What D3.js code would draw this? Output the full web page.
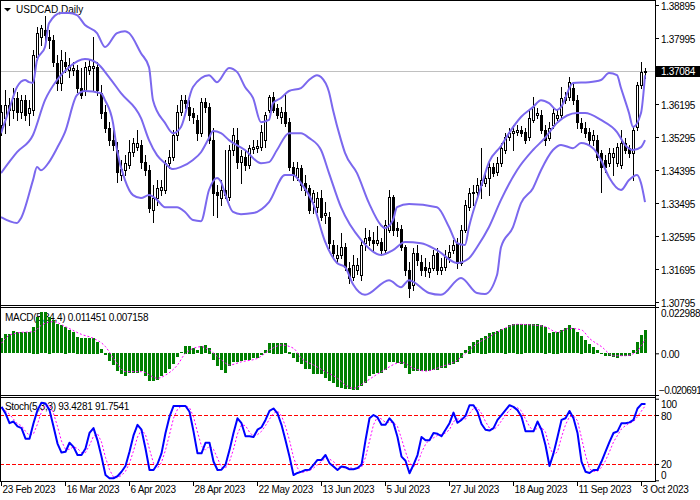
<!DOCTYPE html>
<html><head><meta charset="utf-8">
<script src="https://cdn.jsdelivr.net/npm/d3@7"></script>
<style>
body{margin:0;background:#fff;}
svg{display:block;font-family:"Liberation Sans",Arial,sans-serif;}
</style></head><body>
<svg id="c" width="700" height="500"></svg>
<script>
// ---------- data ----------
const dateLabels = ["23 Feb 2023","16 Mar 2023","6 Apr 2023","28 Apr 2023","22 May 2023","13 Jun 2023","5 Jul 2023","27 Jul 2023","18 Aug 2023","11 Sep 2023","3 Oct 2023"];
const dateIndex = [0,16,32,48,64,80,96,112,128,144,160];

const opens = [
1.3562,1.3581,1.3617,1.3603,1.3636,1.3598,1.3630,1.3595,1.3603,1.3748,
1.3802,1.3821,1.3802,1.3794,1.3731,1.3677,1.3734,1.3712,1.3712,1.3712,
1.3663,1.3658,1.3712,1.3718,1.3720,1.3649,1.3598,1.3554,1.3521,1.3494,
1.3426,1.3439,1.3453,1.3488,1.3502,1.3508,1.3461,1.3439,1.3330,1.3363,
1.3385,1.3385,1.3458,1.3475,1.3535,1.3598,1.3630,1.3611,1.3595,1.3576,
1.3540,1.3625,1.3611,1.3521,1.3379,1.3363,1.3385,1.3366,1.3494,1.3521,
1.3461,1.3475,1.3453,1.3497,1.3499,1.3502,1.3521,1.3603,1.3638,1.3608,
1.3584,1.3598,1.3570,1.3448,1.3420,1.3445,1.3404,1.3390,1.3352,1.3338,
1.3363,1.3317,1.3311,1.3235,1.3199,1.3208,1.3229,1.3172,1.3148,1.3167,
1.3153,1.3240,1.3257,1.3249,1.3240,1.3243,1.3221,1.3276,1.3366,1.3281,
1.3279,1.3229,1.3167,1.3126,1.3213,1.3189,1.3175,1.3161,1.3172,1.3213,
1.3167,1.3175,1.3202,1.3221,1.3240,1.3186,1.3276,1.3338,1.3377,1.3379,
1.3398,1.3404,1.3418,1.3448,1.3434,1.3458,1.3494,1.3529,1.3540,1.3543,
1.3549,1.3543,1.3529,1.3576,1.3589,1.3589,1.3549,1.3527,1.3562,1.3581,
1.3589,1.3638,1.3638,1.3663,1.3630,1.3568,1.3554,1.3543,1.3521,1.3521,
1.3486,1.3467,1.3458,1.3475,1.3458,1.3453,1.3513,1.3499,1.3486,1.3557,
1.3671,1.3707];
const highs = [
1.3617,1.3658,1.3636,1.3663,1.3652,1.3644,1.3644,1.3630,1.3767,1.3829,
1.3835,1.3859,1.3821,1.3808,1.3753,1.3767,1.3761,1.3745,1.3734,1.3726,
1.3718,1.3734,1.3739,1.3802,1.3734,1.3671,1.3617,1.3570,1.3549,1.3516,
1.3467,1.3480,1.3521,1.3527,1.3549,1.3521,1.3480,1.3453,1.3398,1.3412,
1.3412,1.3467,1.3494,1.3549,1.3617,1.3644,1.3644,1.3630,1.3608,1.3589,
1.3636,1.3636,1.3622,1.3554,1.3398,1.3412,1.3494,1.3508,1.3554,1.3554,
1.3494,1.3494,1.3508,1.3521,1.3521,1.3562,1.3598,1.3644,1.3652,1.3619,
1.3611,1.3649,1.3581,1.3461,1.3461,1.3453,1.3426,1.3398,1.3385,1.3379,
1.3385,1.3352,1.3325,1.3249,1.3235,1.3268,1.3240,1.3189,1.3208,1.3199,
1.3249,1.3281,1.3276,1.3270,1.3287,1.3254,1.3303,1.3385,1.3371,1.3298,
1.3289,1.3235,1.3189,1.3227,1.3235,1.3208,1.3199,1.3189,1.3221,1.3227,
1.3199,1.3221,1.3235,1.3249,1.3254,1.3289,1.3358,1.3390,1.3398,1.3418,
1.3499,1.3434,1.3461,1.3458,1.3475,1.3513,1.3540,1.3554,1.3562,1.3562,
1.3559,1.3554,1.3603,1.3638,1.3608,1.3603,1.3562,1.3570,1.3608,1.3603,
1.3666,1.3652,1.3693,1.3677,1.3644,1.3581,1.3570,1.3554,1.3549,1.3535,
1.3494,1.3480,1.3499,1.3499,1.3513,1.3549,1.3527,1.3508,1.3559,1.3679,
1.3734,1.3718];
const lows = [
1.3535,1.3540,1.3562,1.3581,1.3576,1.3581,1.3576,1.3562,1.3589,1.3739,
1.3780,1.3794,1.3772,1.3723,1.3658,1.3658,1.3707,1.3693,1.3698,1.3652,
1.3636,1.3644,1.3701,1.3658,1.3644,1.3581,1.3543,1.3508,1.3494,1.3407,
1.3412,1.3426,1.3445,1.3478,1.3494,1.3445,1.3426,1.3325,1.3298,1.3344,
1.3371,1.3377,1.3445,1.3467,1.3521,1.3589,1.3608,1.3576,1.3568,1.3521,
1.3532,1.3598,1.3513,1.3317,1.3311,1.3344,1.3363,1.3358,1.3480,1.3445,
1.3404,1.3439,1.3445,1.3486,1.3488,1.3494,1.3502,1.3598,1.3598,1.3581,
1.3568,1.3559,1.3439,1.3412,1.3412,1.3385,1.3371,1.3322,1.3322,1.3325,
1.3303,1.3295,1.3227,1.3199,1.3189,1.3199,1.3167,1.3131,1.3139,1.3156,
1.3139,1.3221,1.3235,1.3221,1.3235,1.3208,1.3213,1.3270,1.3262,1.3259,
1.3221,1.3153,1.3093,1.3112,1.3180,1.3153,1.3150,1.3148,1.3167,1.3156,
1.3156,1.3167,1.3189,1.3213,1.3172,1.3180,1.3270,1.3330,1.3344,1.3371,
1.3363,1.3396,1.3371,1.3423,1.3426,1.3450,1.3486,1.3521,1.3494,1.3535,
1.3532,1.3513,1.3521,1.3570,1.3581,1.3540,1.3508,1.3521,1.3554,1.3576,
1.3581,1.3622,1.3630,1.3619,1.3554,1.3543,1.3529,1.3508,1.3508,1.3467,
1.3379,1.3434,1.3450,1.3426,1.3450,1.3445,1.3486,1.3475,1.3412,1.3549,
1.3663,1.3690];
const closes = [
1.3598,1.3617,1.3603,1.3636,1.3598,1.3630,1.3589,1.3608,1.3753,1.3813,
1.3827,1.3808,1.3794,1.3734,1.3677,1.3739,1.3723,1.3726,1.3718,1.3663,
1.3644,1.3720,1.3723,1.3723,1.3658,1.3595,1.3554,1.3521,1.3508,1.3434,
1.3442,1.3458,1.3488,1.3513,1.3513,1.3461,1.3439,1.3336,1.3363,1.3390,
1.3393,1.3458,1.3475,1.3535,1.3598,1.3630,1.3622,1.3589,1.3584,1.3540,
1.3625,1.3611,1.3521,1.3377,1.3371,1.3385,1.3371,1.3494,1.3535,1.3461,
1.3478,1.3453,1.3499,1.3502,1.3505,1.3543,1.3589,1.3638,1.3603,1.3589,
1.3598,1.3568,1.3448,1.3426,1.3445,1.3398,1.3385,1.3330,1.3377,1.3363,
1.3311,1.3322,1.3240,1.3213,1.3208,1.3229,1.3175,1.3145,1.3180,1.3180,
1.3235,1.3254,1.3249,1.3240,1.3249,1.3221,1.3289,1.3366,1.3276,1.3276,
1.3229,1.3167,1.3118,1.3213,1.3194,1.3167,1.3167,1.3172,1.3208,1.3167,
1.3175,1.3202,1.3216,1.3235,1.3186,1.3276,1.3344,1.3377,1.3379,1.3398,
1.3412,1.3418,1.3448,1.3431,1.3458,1.3499,1.3529,1.3540,1.3546,1.3549,
1.3540,1.3521,1.3581,1.3611,1.3595,1.3549,1.3521,1.3554,1.3595,1.3589,
1.3636,1.3630,1.3679,1.3630,1.3570,1.3554,1.3540,1.3521,1.3535,1.3475,
1.3448,1.3448,1.3486,1.3486,1.3502,1.3513,1.3494,1.3486,1.3549,1.3671,
1.3707,1.37084];

// Bollinger bands read at [bar index, price]
const bbUpper = [[0,1.3540],[2,1.3603],[4,1.3666],[6,1.3685],[7,1.3679],[8,1.3677],[9,1.3739],[11,1.3775],[12,1.3840],[15,1.3868],[17,1.3868],[19,1.3862],[21,1.3835],[24,1.3813],[26,1.3775],[29,1.3813],[31,1.3818],[32,1.3813],[35,1.3758],[37,1.3720],[38,1.3630],[41,1.3568],[43,1.3540],[45,1.3557],[48,1.3666],[52,1.3698],[54,1.3679],[57,1.3718],[59,1.3707],[61,1.3666],[63,1.3636],[65,1.3570],[67,1.3576],[68,1.3622],[70,1.3636],[72,1.3655],[75,1.3663],[77,1.3685],[79,1.3698],[80,1.3693],[82,1.3652],[83,1.3603],[85,1.3521],[86,1.3486],[89,1.3431],[92,1.3349],[95,1.3289],[96,1.3281],[98,1.3303],[99,1.3338],[102,1.3347],[109,1.3338],[112,1.3284],[114,1.3240],[116,1.3235],[117,1.3284],[120,1.3393],[122,1.3461],[125,1.3505],[127,1.3540],[130,1.3584],[133,1.3611],[135,1.3630],[137,1.3622],[139,1.3603],[140,1.3611],[143,1.3677],[147,1.3679],[150,1.3685],[152,1.3704],[154,1.3698],[155,1.3663],[157,1.3595],[158,1.3557],[160,1.3595],[161,1.3698]];
const bbMiddle = [[0,1.3431],[4,1.3488],[8,1.3535],[11,1.3630],[14,1.3685],[17,1.3720],[21,1.3742],[24,1.3731],[27,1.3693],[30,1.3649],[35,1.3581],[37,1.3521],[39,1.3480],[41,1.3458],[43,1.3442],[45,1.3448],[48,1.3467],[50,1.3488],[52,1.3527],[53,1.3546],[55,1.3540],[57,1.3521],[61,1.3494],[65,1.3458],[67,1.3461],[69,1.3494],[72,1.3540],[75,1.3540],[77,1.3527],[80,1.3494],[82,1.3431],[85,1.3338],[90,1.3249],[95,1.3208],[98,1.3221],[101,1.3243],[105,1.3240],[109,1.3221],[114,1.3186],[117,1.3199],[119,1.3229],[122,1.3284],[125,1.3358],[129,1.3439],[133,1.3494],[136,1.3527],[139,1.3568],[144,1.3595],[146,1.3595],[150,1.3576],[154,1.3543],[156,1.3508],[158,1.3494],[160,1.3502],[161,1.3521]];
const bbLower = [[0,1.3311],[4,1.3295],[5,1.3308],[8,1.3412],[9,1.3448],[10,1.3439],[12,1.3461],[14,1.3499],[16,1.3543],[19,1.3644],[21,1.3655],[25,1.3649],[26,1.3630],[28,1.3568],[29,1.3494],[31,1.3412],[33,1.3371],[35,1.3363],[37,1.3371],[39,1.3358],[41,1.3338],[44,1.3338],[46,1.3325],[48,1.3303],[50,1.3300],[52,1.3385],[54,1.3418],[55,1.3407],[56,1.3375],[58,1.3325],[60,1.3319],[63,1.3322],[67,1.3352],[71,1.3426],[73,1.3426],[75,1.3404],[78,1.3349],[81,1.3245],[84,1.3186],[86,1.3175],[88,1.3128],[91,1.3099],[97,1.3139],[100,1.3120],[102,1.3139],[107,1.3104],[110,1.3099],[115,1.3145],[119,1.3104],[121,1.3101],[124,1.3153],[125,1.3229],[128,1.3284],[130,1.3349],[133,1.3390],[135,1.3439],[138,1.3494],[140,1.3508],[143,1.3499],[145,1.3513],[148,1.3499],[150,1.3467],[152,1.3420],[155,1.3385],[157,1.3412],[159,1.3426],[160,1.3404],[161,1.3352]];

const priceTicks = [1.38895,1.37995,1.36195,1.35295,1.34395,1.33495,1.32595,1.31695,1.30795];
const lastPrice = 1.37084;

// MACD(5,34,4) histogram, one value per bar
const macdHist = [
0.0074,0.0094,0.0094,0.0110,0.0104,0.0104,0.0104,0.0104,0.0132,0.0182,
0.0203,0.0205,0.0182,0.0165,0.0144,0.0140,0.0132,0.0116,0.0104,0.0082,
0.0077,0.0077,0.0077,0.0077,0.0058,0.0021,-0.0012,-0.0042,-0.0062,-0.0091,
-0.0104,-0.0116,-0.0099,-0.0097,-0.0097,-0.0088,-0.0116,-0.0137,-0.0141,-0.0133,
-0.0116,-0.0099,-0.0078,-0.0055,-0.0022,0.0005,0.0038,0.0038,0.0028,0.0016,
0.0038,0.0040,0.0028,-0.0033,-0.0066,-0.0083,-0.0099,-0.0066,-0.0045,-0.0045,
-0.0038,-0.0033,-0.0033,-0.0025,-0.0025,-0.0012,0.0016,0.0050,0.0053,0.0053,
0.0053,0.0050,0.0008,-0.0025,-0.0045,-0.0055,-0.0078,-0.0078,-0.0103,-0.0103,
-0.0106,-0.0124,-0.0141,-0.0149,-0.0171,-0.0174,-0.0177,-0.0180,-0.0182,-0.0182,
-0.0166,-0.0149,-0.0116,-0.0106,-0.0099,-0.0099,-0.0083,-0.0045,-0.0045,-0.0050,
-0.0055,-0.0074,-0.0104,-0.0091,-0.0088,-0.0088,-0.0088,-0.0088,-0.0083,-0.0083,
-0.0074,-0.0074,-0.0062,-0.0055,-0.0045,-0.0025,0.0016,0.0038,0.0055,0.0066,
0.0077,0.0087,0.0099,0.0104,0.0110,0.0120,0.0127,0.0140,0.0145,0.0147,
0.0147,0.0144,0.0144,0.0145,0.0145,0.0140,0.0132,0.0099,0.0107,0.0107,
0.0116,0.0124,0.0140,0.0124,0.0104,0.0087,0.0066,0.0045,0.0033,0.0016,
0.0003,-0.0017,-0.0017,-0.0022,-0.0025,-0.0017,-0.0017,-0.0017,0.0016,0.0058,
0.0091,0.011451];
// MACD signal line read at [bar index, value]
const macdSignal = [[0,0.0050],[2,0.0090],[5,0.0104],[8,0.0107],[10,0.0140],[13,0.0157],[16,0.0132],[20,0.0094],[23,0.0074],[26,0.0033],[28,-0.0025],[31,-0.0091],[35,-0.0091],[39,-0.0124],[41,-0.0108],[44,-0.0058],[46,0.0000],[50,0.0033],[52,0.0016],[55,-0.0033],[57,-0.0058],[60,-0.0042],[64,-0.0025],[67,0.0016],[70,0.0041],[73,0.0025],[75,-0.0025],[78,-0.0058],[81,-0.0091],[84,-0.0124],[86,-0.0157],[88,-0.0174],[91,-0.0141],[95,-0.0091],[100,-0.0045],[103,-0.0074],[106,-0.0088],[110,-0.0066],[114,-0.0033],[116,0.0000],[119,0.0050],[122,0.0082],[125,0.0116],[129,0.0144],[133,0.0140],[136,0.0132],[139,0.0104],[142,0.0124],[145,0.0116],[147,0.0074],[150,0.0033],[153,-0.0012],[156,-0.0012],[159,0.0012],[160,0.0040],[161,0.007158]];
const macdTicks = [0.022988,0,-0.020691];

// Stochastic(5,3,3) %K and %D, one value per bar
const stochK = [
90,82,70,72,66,64,51,51,70,86,
95,94,86,66,45,34,35,46,41,31,
31,39,58,64,49,29,6.5,2.5,2.5,5,
10.5,17.5,35,55,68,62,39,12.6,12.6,20,
33,58,78,91,91,91,91,84,60,33,
33,46,46,23,12.6,13,19,37,58,76,
70,54,54,53,62,65,74,85,88,82,
68,49,29,6.5,9,10.6,12.6,13,19,25,
25,31,21,17,12.6,17,16,13.5,13.5,15,
19,49,76,80,77,68,68,76,70,53,
29,24,8.6,19,31,53,49,49,58,57,
54,62,70,83,70.5,74,79,92,92,84,
69,62,61,64,74,80,86,92,90,86,
78,60,60,60,72,62,43,17.5,33,53,
74,76,85,76,58,23,10.5,9,12.6,12.6,
23,35,47,58,60,70,70,71,74,88,
93.4,93.4281];
const stochD = [
88,85,81,75,69,67,60,55,57,69,
84,92,92,82,66,48,38,38,41,39,
34,34,43,54,57,47,28,13,4,3,
6,11,21,36,53,62,56,38,21,15,
22,37,56,76,87,91,91,89,78,59,
42,37,42,38,27,16,15,23,38,57,
68,67,59,54,56,60,67,75,82,85,
79,66,49,28,15,9,11,12,15,19,
23,27,26,23,17,16,15,16,14,14,
16,28,48,68,78,75,71,71,71,66,
51,35,21,17,20,34,44,50,52,55,
56,58,62,72,75,76,75,82,88,89,
82,72,64,62,66,73,80,86,89,89,
85,75,66,60,64,65,59,41,31,35,
53,68,78,79,73,52,31,14,11,11,
16,24,35,47,55,63,67,70,72,78,
85,91.7541];
const stochLevels = [80,20];
const stochTicks = [100,80,20,0];

// ---------- drawing ----------
const svg = d3.select('#c');
const AX = 655;                // right axis x
const n = opens.length;
const idx = d3.range(n);
const x = d3.scaleLinear().domain([0, n - 1]).range([1, 645]);
const yP = d3.scaleLinear().domain([1.30795, 1.38895]).range([302, 5]);
const yM = d3.scaleLinear().domain([-0.020691, 0.022988]).range([395, 307]);
const yS = d3.scaleLinear().domain([0, 100]).range([480.3, 398.7]);
const cx = i => Math.round(x(i));
const fontSize = '10px';

svg.append('rect').attr('width',700).attr('height',500).attr('fill','#fff');
const defs = svg.append('defs');
defs.append('clipPath').attr('id','cMain').append('rect').attr('x',1).attr('y',1).attr('width',AX-1).attr('height',304);
defs.append('clipPath').attr('id','cMacd').append('rect').attr('x',1).attr('y',308).attr('width',AX-1).attr('height',87);
defs.append('clipPath').attr('id','cSto').append('rect').attr('x',1).attr('y',398).attr('width',AX-1).attr('height',83);

// panel titles (drawn under the indicator marks, as in the reference)
svg.append('path').attr('d',d3.line()([[4,8],[11,8],[7.5,11.5]])+'Z').attr('fill','#000');
svg.append('text').attr('x',16).attr('y',12.5).text('USDCAD,Daily').attr('fill','#000').style('font-size',fontSize);
svg.append('text').attr('x',5).attr('y',320.5)
  .text(`MACD(5,34,4) ${d3.format('.6f')(macdHist[n-1])} ${d3.format('.6f')(macdSignal[macdSignal.length-1][1])}`)
  .attr('fill','#000').style('font-size',fontSize).style('letter-spacing','-0.3px');
svg.append('text').attr('x',5).attr('y',409.5)
  .text(`Stoch(5,3,3) ${d3.format('.4f')(stochK[n-1])} ${d3.format('.4f')(stochD[n-1])}`)
  .attr('fill','#000').style('font-size',fontSize).style('letter-spacing','-0.3px');

// current price line
const gMain = svg.append('g').attr('clip-path','url(#cMain)');
gMain.append('line').attr('x1',0).attr('x2',AX).attr('y1',Math.round(yP(lastPrice))+0.5).attr('y2',Math.round(yP(lastPrice))+0.5)
  .attr('stroke','#c0c0c0').attr('stroke-width',1);

// candles
gMain.append('g').selectAll('line').data(idx).join('line')
  .attr('x1',i=>cx(i)+0.5).attr('x2',i=>cx(i)+0.5)
  .attr('y1',i=>Math.round(yP(highs[i]))).attr('y2',i=>Math.round(yP(lows[i]))+1)
  .attr('stroke','#000').attr('stroke-width',1);
gMain.append('g').selectAll('rect').data(idx).join('rect')
  .attr('x',i=>cx(i)-0.5).attr('width',2)
  .attr('y',i=>Math.round(yP(Math.max(opens[i],closes[i])))+0.5)
  .attr('height',i=>Math.max(0.01, Math.round(yP(Math.min(opens[i],closes[i]))) - Math.round(yP(Math.max(opens[i],closes[i])))))
  .attr('fill',i=>closes[i]>=opens[i]?'#fff':'#000')
  .attr('stroke','#000').attr('stroke-width',1);

// Bollinger bands
const bandLine = d3.line().x(d=>x(d[0])).y(d=>yP(d[1])).curve(d3.curveMonotoneX);
[bbUpper,bbMiddle,bbLower].forEach(b=>{
  gMain.append('path').attr('d',bandLine(b)).attr('fill','none')
    .attr('stroke','#7b68ee').attr('stroke-width',2).attr('stroke-linejoin','round');
});

// MACD
const gMacd = svg.append('g').attr('clip-path','url(#cMacd)');
gMacd.append('g').selectAll('rect').data(idx).join('rect')
  .attr('x',i=>cx(i)-1).attr('width',3)
  .attr('y',i=>Math.round(Math.min(yM(macdHist[i]),yM(0))))
  .attr('height',i=>Math.max(1,Math.round(Math.abs(yM(macdHist[i])-yM(0)))))
  .attr('fill','#008000');
gMacd.append('path')
  .attr('d',d3.line().x(d=>x(d[0])+0.5).y(d=>yM(d[1])).curve(d3.curveMonotoneX)(macdSignal))
  .attr('fill','none').attr('stroke','#ff00ff').attr('stroke-width',1).attr('stroke-dasharray','2,2');

// Stochastic
const gSto = svg.append('g').attr('clip-path','url(#cSto)');
stochLevels.forEach(v=>{
  gSto.append('line').attr('x1',0).attr('x2',AX).attr('y1',Math.round(yS(v))+0.5).attr('y2',Math.round(yS(v))+0.5)
    .attr('stroke','#ff0000').attr('stroke-width',1).attr('stroke-dasharray','4,2');
});
gSto.append('path').attr('d',d3.line().x(i=>x(i)+0.5).y(i=>yS(stochD[i]))(idx))
  .attr('fill','none').attr('stroke','#ff00ff').attr('stroke-width',1).attr('stroke-dasharray','2,2');
gSto.append('path').attr('d',d3.line().x(i=>x(i)+0.5).y(i=>yS(stochK[i]))(idx))
  .attr('fill','none').attr('stroke','#0000ff').attr('stroke-width',2).attr('stroke-linejoin','round');

// frames
const fr = svg.append('g').attr('stroke','#000').attr('stroke-width',1).attr('shape-rendering','crispEdges');
fr.append('line').attr('x1',0.5).attr('x2',0.5).attr('y1',0).attr('y2',482);
fr.append('line').attr('x1',0).attr('x2',AX+1).attr('y1',0.5).attr('y2',0.5);
fr.append('line').attr('x1',AX+0.5).attr('x2',AX+0.5).attr('y1',0).attr('y2',482);
[305.5,307.5,395.5,397.5,481.5].forEach(yy=>{
  fr.append('line').attr('x1',0).attr('x2',AX+1).attr('y1',yy).attr('y2',yy);
});

// axes
function styleAxis(g){
  g.select('.domain').remove();
  g.selectAll('line').attr('stroke','#000');
  g.selectAll('text').attr('fill','#000').style('font-size',fontSize)
    .style('font-family','"Liberation Sans",Arial,sans-serif').style('letter-spacing','-0.3px');
}
const axP = svg.append('g').attr('transform',`translate(${AX},0)`)
  .call(d3.axisRight(yP).tickValues(priceTicks).tickSize(4).tickSizeOuter(0).tickFormat(d3.format('.5f')));
styleAxis(axP);
axP.selectAll('text').attr('x',6).attr('dy','0.4em');

const axM = svg.append('g').attr('transform',`translate(${AX},0)`)
  .call(d3.axisRight(yM).tickValues(macdTicks).tickSize(4).tickSizeOuter(0)
    .tickFormat(d=>d===0?'0.00':d3.format('.6f')(d)));
styleAxis(axM);
axM.selectAll('text').attr('x',d=>d<0?4:6).attr('dy',d=>d>0?'0.95em':(d<0?'-0.2em':'0.4em'))
  .style('letter-spacing',d=>d<0?'-0.6px':'-0.3px');

const axS = svg.append('g').attr('transform',`translate(${AX},0)`)
  .call(d3.axisRight(yS).tickValues(stochTicks).tickSize(4).tickSizeOuter(0).tickFormat(d3.format('d')));
styleAxis(axS);
axS.selectAll('text').attr('x',6).attr('dy',d=>d===100?'0.9em':(d===0?'-0.2em':'0.4em'));

const axT = svg.append('g').attr('transform','translate(0,481)')
  .call(d3.axisBottom(x).tickValues(dateIndex).tickSize(5).tickSizeOuter(0)
    .tickFormat((d,k)=>dateLabels[k]));
styleAxis(axT);
axT.selectAll('text').attr('text-anchor','start').attr('x',1).attr('y',5).attr('dy','0.71em');

// current price box
const yl = Math.round(yP(lastPrice));
svg.append('rect').attr('x',AX+1).attr('y',yl-5).attr('width',700-AX-1).attr('height',11).attr('fill','#000');
svg.append('text').attr('x',AX+6).attr('y',yl+4).text(d3.format('.5f')(lastPrice))
  .attr('fill','#fff').style('font-size',fontSize).style('letter-spacing','-0.3px');
</script>
</body></html>
